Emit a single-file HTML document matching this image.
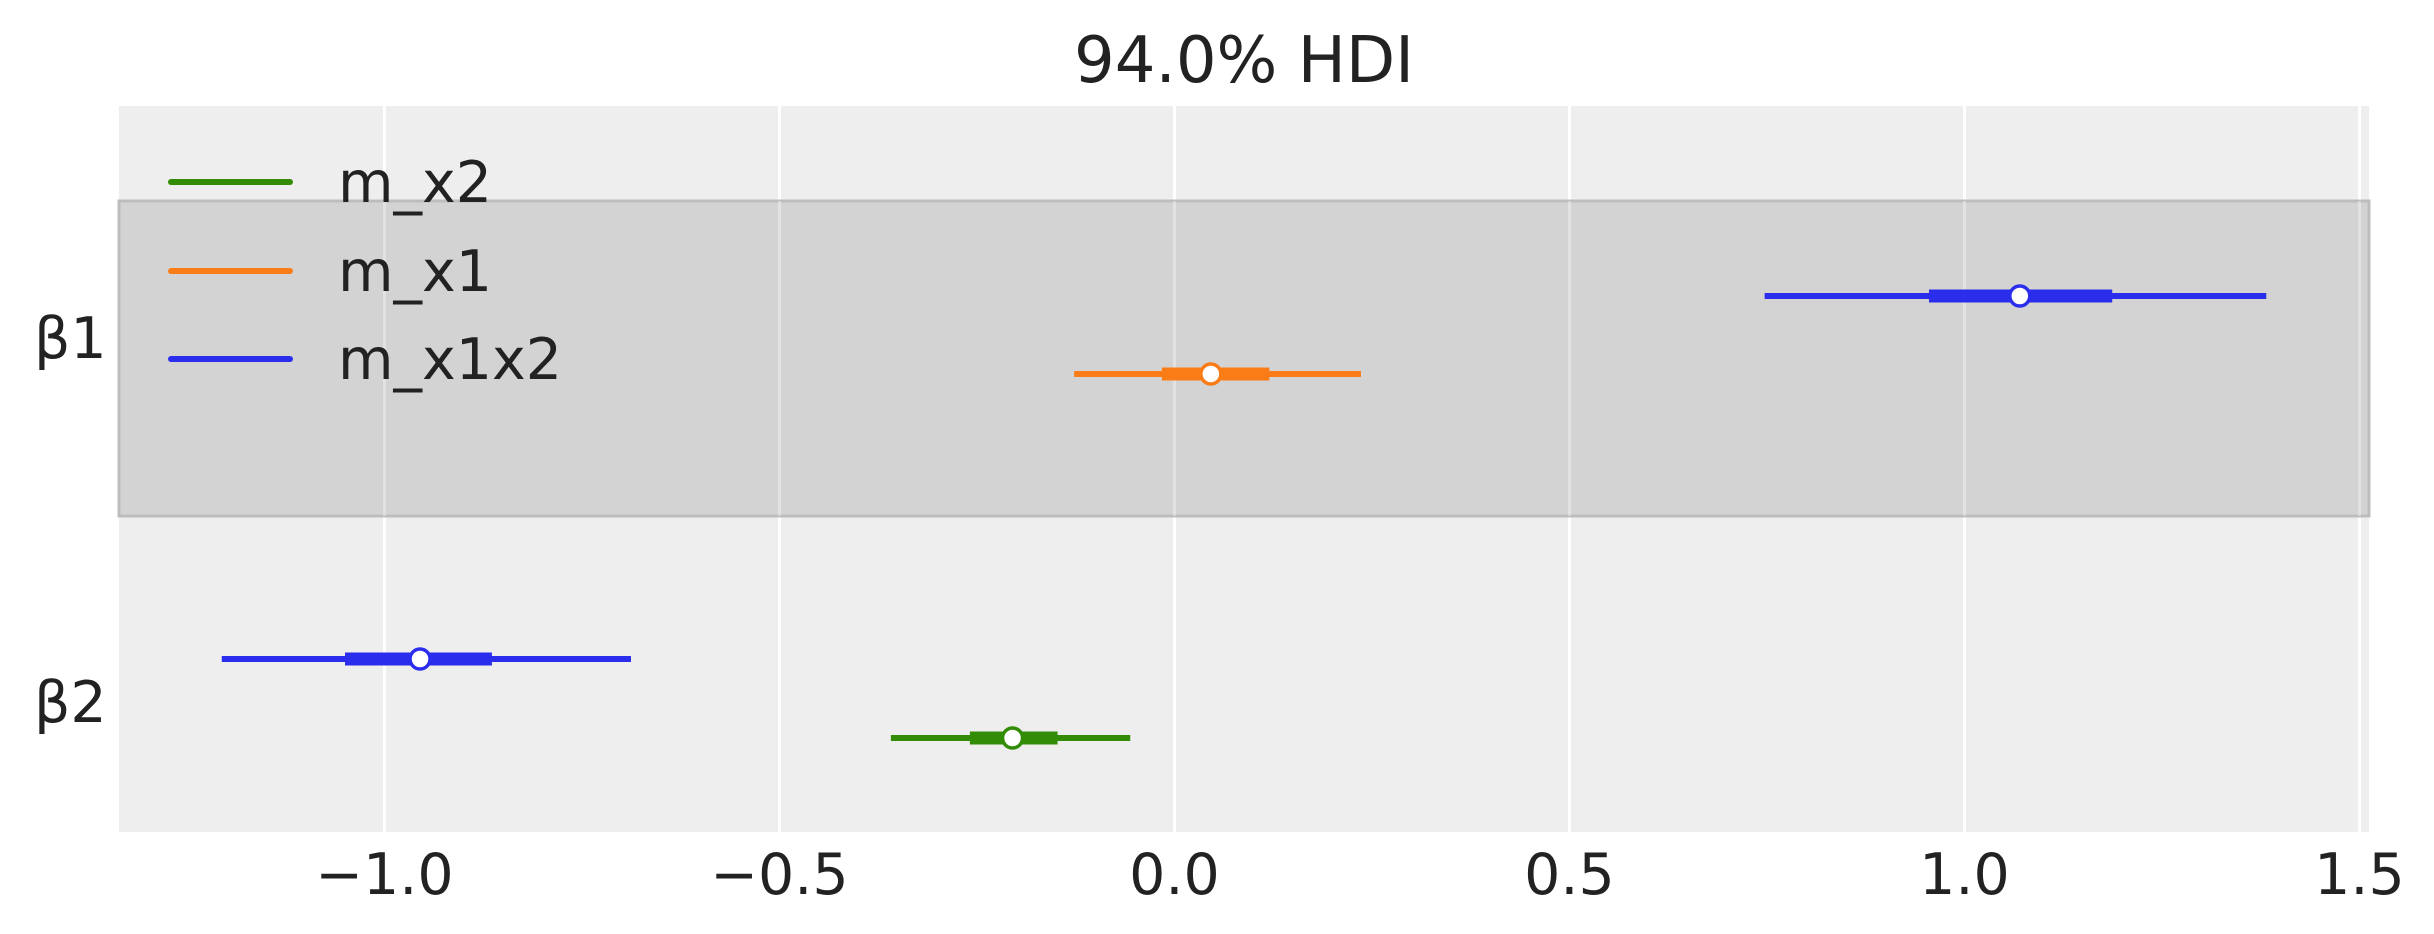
<!DOCTYPE html>
<html><head><meta charset="utf-8"><style>
html,body{margin:0;padding:0;background:#fff;}
svg{display:block;font-family:"DejaVu Sans","Liberation Sans",sans-serif;}
</style></head><body>
<svg id="chart" width="2434" height="934" viewBox="0 0 2434 934">
<rect x="119" y="106" width="2250" height="726" fill="#eeeeee"/>
<g id="grid"></g>
<rect x="119" y="201" width="2250" height="315" fill="#d3d3d3" stroke="#bdbdbd" stroke-width="3"/>
<g id="gridTop" opacity="0.35"></g>
<g id="marks"></g>
<g id="xticks"></g>
<text x="1244" y="82" font-size="64" fill="#222" text-anchor="middle">94.0% HDI</text>
<text x="34" y="358" font-size="57" fill="#222">β1</text>
<text x="34" y="722" font-size="57" fill="#222">β2</text>
<g>
<line x1="171" y1="182" x2="290" y2="182" stroke="#328c06" stroke-width="6" stroke-linecap="round"/>
<text x="338" y="202" font-size="57" fill="#222">m_x2</text>
<line x1="171" y1="271" x2="290" y2="271" stroke="#fa7c17" stroke-width="6" stroke-linecap="round"/>
<text x="338" y="291" font-size="57" fill="#222">m_x1</text>
<line x1="171" y1="359" x2="290" y2="359" stroke="#2a2eec" stroke-width="6" stroke-linecap="round"/>
<text x="338" y="379" font-size="57" fill="#222">m_x1x2</text>
</g>
</svg>
<script>
const tickValues = [-1.0, -0.5, 0.0, 0.5, 1.0, 1.5];
const tickLabels = ["\u22121.0", "\u22120.5", "0.0", "0.5", "1.0", "1.5"];
const seriesNames = ["m_x1x2", "m_x1", "m_x1x2", "m_x2"];
const seriesParams = ["β1", "β1", "β2", "β2"];
const seriesColors = ["#2a2eec", "#fa7c17", "#2a2eec", "#328c06"];
const rowPos = [296, 374, 659, 738];
const hdiLow = [0.747, -0.127, -1.206, -0.359];
const hdiHigh = [1.382, 0.236, -0.688, -0.056];
const iqrLow = [0.955, -0.016, -1.050, -0.259];
const iqrHigh = [1.187, 0.120, -0.864, -0.148];
const medians = [1.070, 0.046, -0.955, -0.205];

const NS = "http://www.w3.org/2000/svg";
function xScale(v){ return 1174.5 + v * 790; }
function mk(tag, attrs, parent){
  const e = document.createElementNS(NS, tag);
  for (const k in attrs) e.setAttribute(k, attrs[k]);
  parent.appendChild(e);
  return e;
}
const grid = document.getElementById('grid');
const gridTop = document.getElementById('gridTop');
const xt = document.getElementById('xticks');
tickValues.forEach((v, i) => {
  const x = xScale(v);
  const g = mk('line', {x1:x, x2:x, y1:106, y2:832, stroke:'#fff', 'stroke-width':3}, grid);
  
  
  const g2 = mk('line', {x1:x, x2:x, y1:201, y2:516, stroke:'#fff', 'stroke-width':3}, gridTop);
  
  
  const t = mk('text', {x:x, y:894, 'font-size':57, fill:'#222', 'text-anchor':'middle'}, xt);
  t.textContent = tickLabels[i];
  
  
});
const marks = document.getElementById('marks');
seriesNames.forEach((n, i) => {
  const y = rowPos[i], c = seriesColors[i];
  const thin = mk('line', {x1:xScale(hdiLow[i]), x2:xScale(hdiHigh[i]), y1:y, y2:y, stroke:c, 'stroke-width':6}, marks);
  
  
  const thick = mk('line', {x1:xScale(iqrLow[i]), x2:xScale(iqrHigh[i]), y1:y, y2:y, stroke:c, 'stroke-width':13}, marks);
  
  
  const dot = mk('circle', {cx:xScale(medians[i]), cy:y, r:10, fill:'#fff', stroke:c, 'stroke-width':3.5}, marks);
  
  
});
</script>
</body></html>
